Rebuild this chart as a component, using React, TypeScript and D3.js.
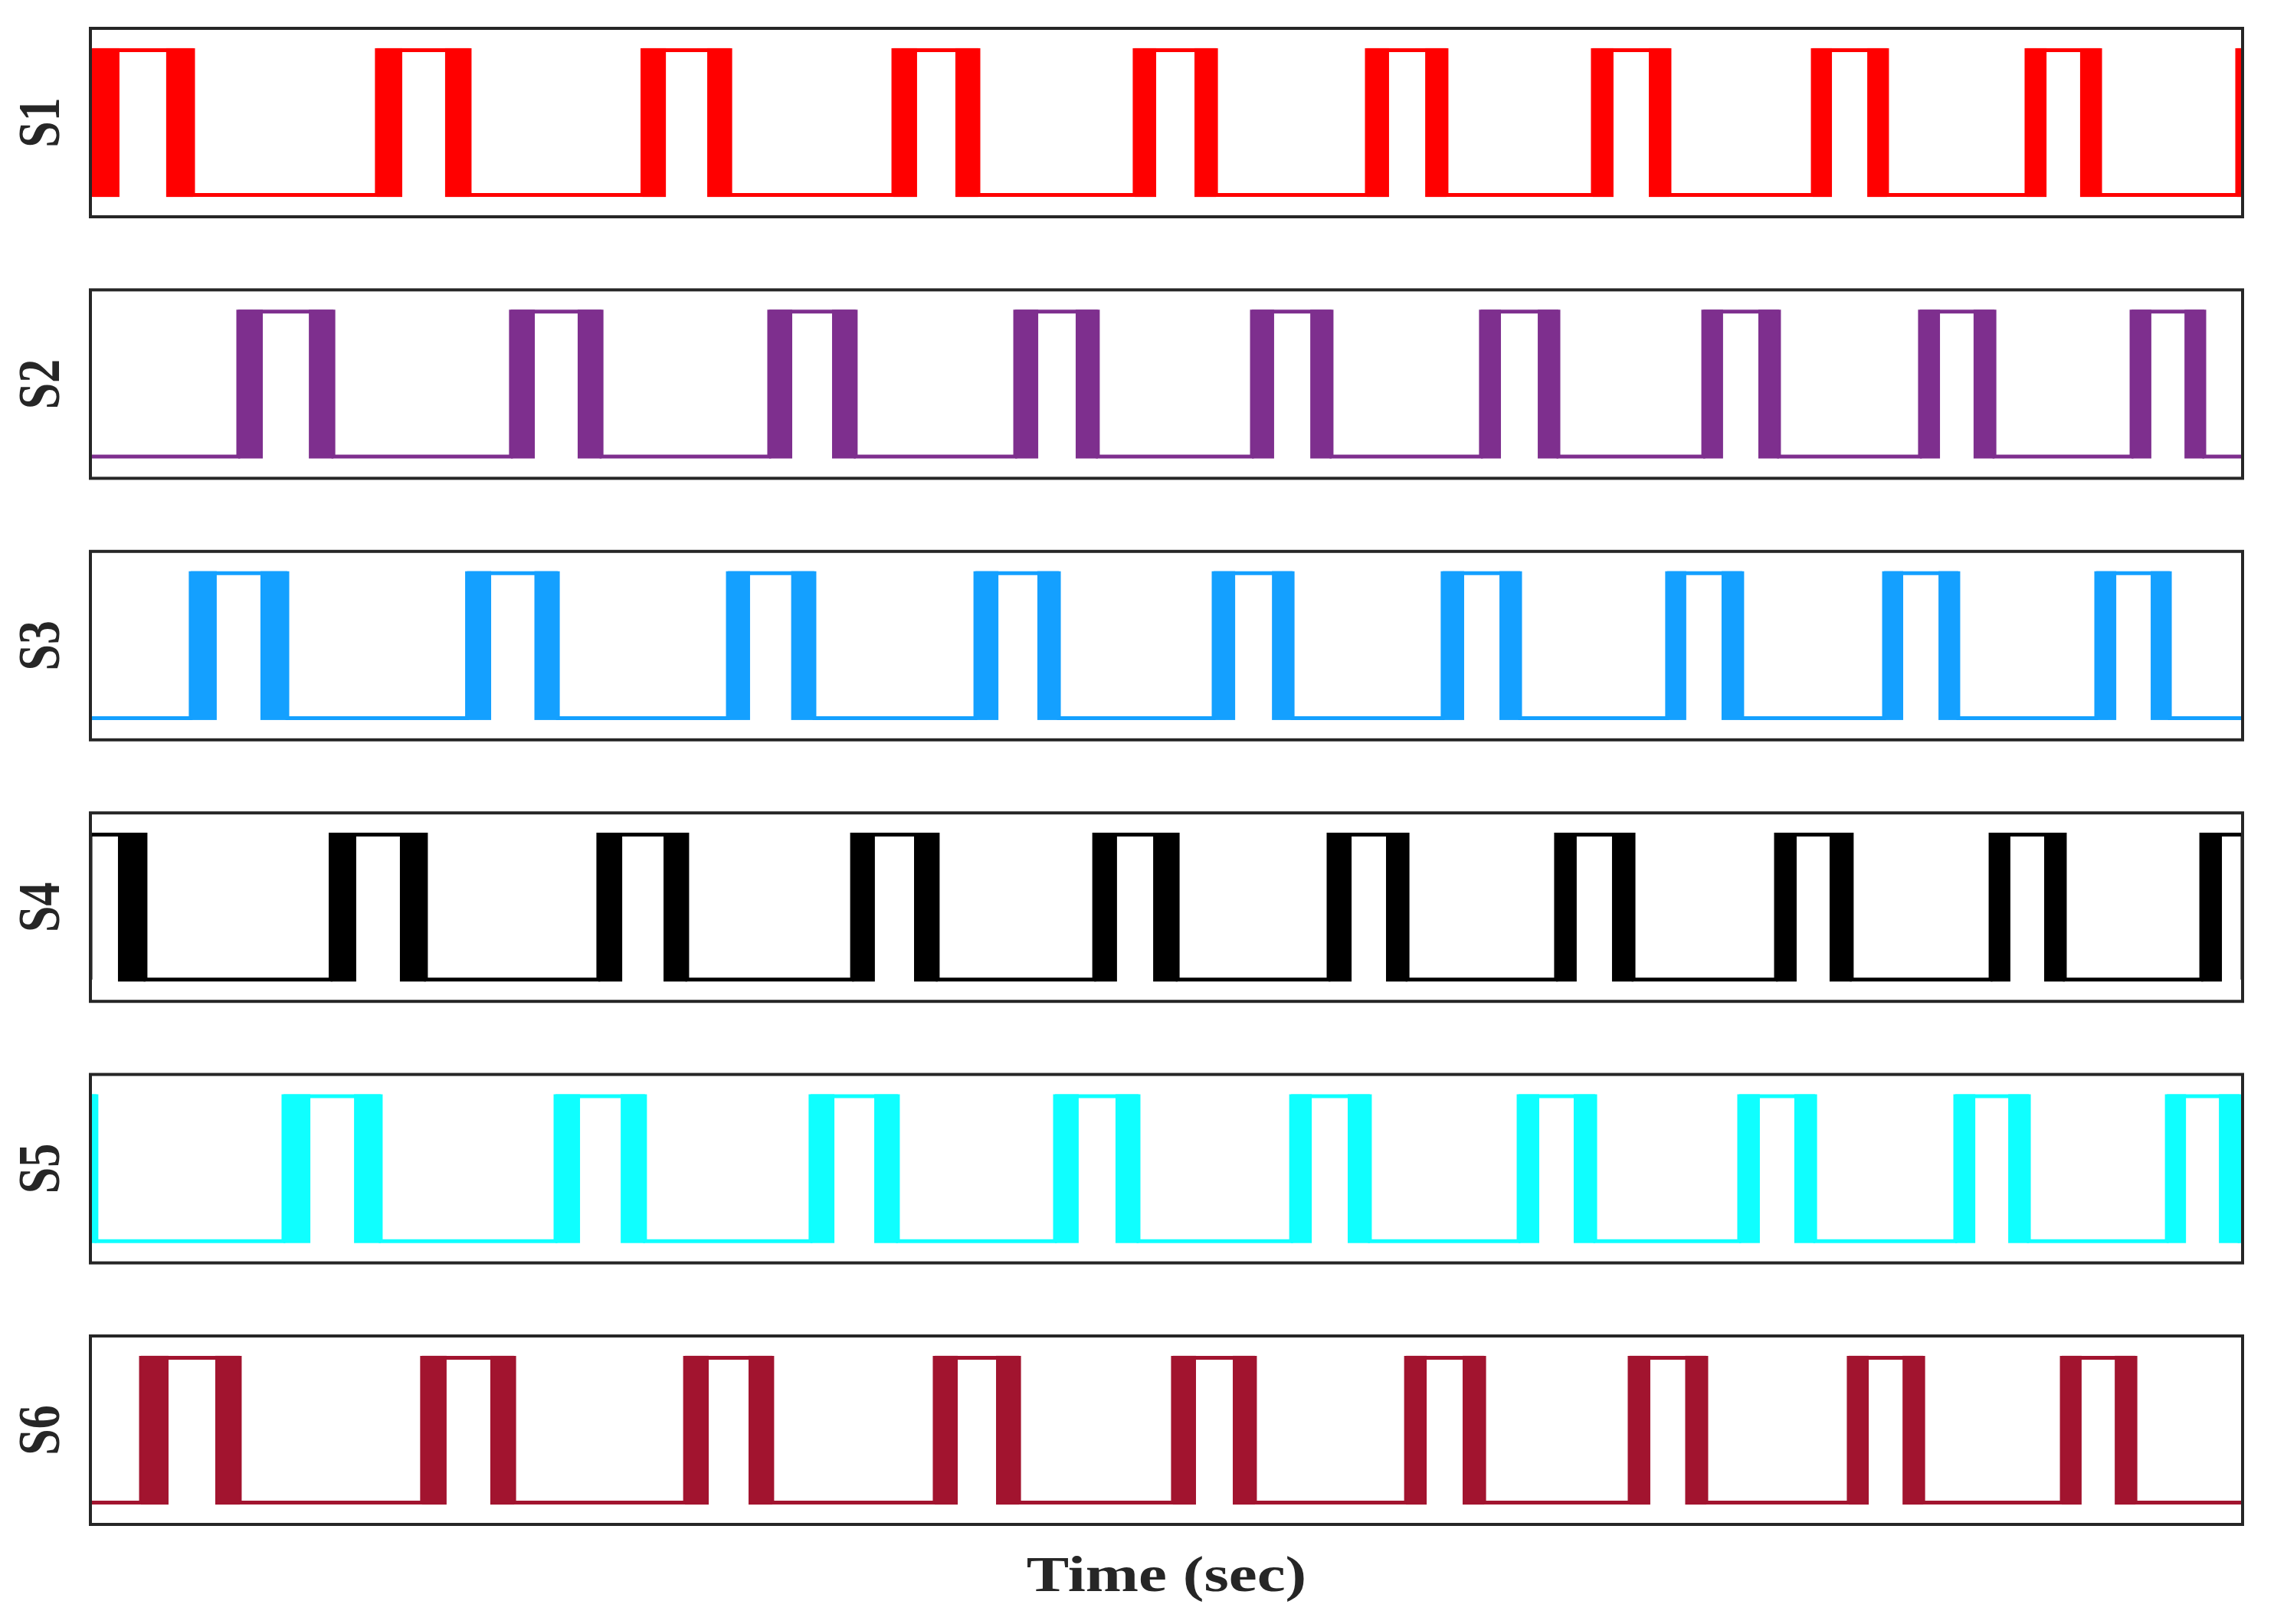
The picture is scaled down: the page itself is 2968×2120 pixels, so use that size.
import * as d3 from 'd3';

// time axis runs 0..1000 ms (no ticks shown in the figure)
const T_MAX = 1000;

const signalNames = ['S1', 'S2', 'S3', 'S4', 'S5', 'S6'];
const signalColors = ['#FF0000', '#7E2F8E', '#14A0FF', '#000000', '#0FFFFF', '#A2142F'];

// each pulse: [rise start, rise end, fall start, fall end] (ms)
// the thick parts are the dense switching bands on each edge
const s1Pulses = [
  [1.1, 13.5, 35.2, 47.7], [133.1, 144.9, 164.8, 176.2], [256.5, 267.4, 286.6, 297.3],
  [373.1, 384.1, 401.9, 412.6], [485.2, 495.2, 513.0, 523.0], [593.1, 603.4, 620.2, 630.1],
  [698.1, 707.7, 724.1, 733.7], [800.3, 809.2, 825.6, 834.8], [899.6, 908.9, 924.5, 933.8],
  [997.5, 1000, 1000, 1000],
];
const s2Pulses = [
  [68.7, 80.1, 101.5, 112.9], [195.4, 206.5, 226.4, 237.5], [315.4, 326.1, 344.6, 355.6],
  [429.7, 440.4, 457.8, 468.1], [539.7, 550.0, 566.8, 576.7], [646.1, 655.4, 672.5, 682.1],
  [749.4, 758.6, 775.0, 784.6], [850.1, 859.4, 875.0, 884.7], [948.4, 957.6, 973.0, 982.2],
];
const s3Pulses = [
  [46.6, 58.7, 79.0, 91.5], [175.0, 186.2, 206.3, 217.2], [296.2, 306.5, 325.6, 336.4],
  [411.2, 421.9, 440.0, 450.0], [521.9, 531.9, 549.0, 558.6], [628.3, 638.3, 654.7, 664.3],
  [732.6, 741.5, 757.9, 767.5], [833.4, 842.3, 858.7, 867.9], [932.0, 941.3, 957.3, 966.2],
];
const s4Pulses = [
  [0, 0, 12.8, 25.6], [111.6, 123.5, 143.8, 155.9], [236.0, 247.1, 266.3, 277.3],
  [353.9, 364.5, 382.7, 393.7], [466.4, 477.0, 493.8, 505.2], [575.3, 586.0, 602.0, 612.0],
  [681.0, 690.6, 707.0, 717.0], [783.2, 792.8, 808.1, 818.4], [882.9, 892.1, 907.8, 917.4],
  [980.8, 990.4, 1000, 1000],
];
const s5Pulses = [
  [0, 0, 0, 2.8], [89.7, 102.2, 122.5, 134.9], [216.1, 227.5, 246.4, 257.7],
  [334.6, 345.7, 364.2, 375.2], [448.2, 459.2, 476.3, 487.0], [557.9, 567.5, 584.2, 594.5],
  [663.6, 673.2, 689.2, 699.2], [766.1, 775.7, 791.7, 801.4], [866.5, 875.8, 891.1, 900.7],
  [964.8, 973.7, 989.0, 998.6],
];
const s6Pulses = [
  [23.5, 36.3, 58.0, 69.4], [154.1, 165.5, 185.8, 196.9], [276.3, 287.3, 305.8, 316.8],
  [392.3, 403.0, 420.8, 431.5], [503.0, 513.7, 530.8, 541.1], [611.3, 620.9, 637.6, 647.6],
  [715.2, 724.8, 741.0, 750.8], [817.0, 826.3, 842.0, 851.6], [916.0, 925.2, 940.6, 950.2],
];

const allPulses = [s1Pulses, s2Pulses, s3Pulses, s4Pulses, s5Pulses, s6Pulses];

const W = 2968;
const H = 2120;
const left = 118;
const right = 2927;
const panelTop = 37;
const panelStep = 341.4;
const panelH = 246;
const lineW = 5;
const ink = '#262626';
const stretch = 1.26; // the original figure is stretched horizontally

export default function App() {
  const x = d3.scaleLinear().domain([0, T_MAX]).range([left, right]);

  return (
    <svg
      width={W}
      height={H}
      style={{ position: 'absolute', left: 0, top: 0, background: '#fff' }}
      fontFamily="'Liberation Serif', 'Times New Roman', serif"
    >
      <rect width={W} height={H} fill="#fff" />
      {signalNames.map((name, i) => {
        const top = panelTop + i * panelStep;
        const y = d3.scaleLinear().domain([-0.15, 1.15]).range([top + panelH, top]);
        const pulses = allPulses[i];
        const pts: [number, number][] = [[0, 0]];
        pulses.forEach(([r0, , , f1]) => {
          pts.push([r0, 0], [r0, 1], [f1, 1], [f1, 0]);
        });
        pts.push([T_MAX, 0]);
        const line = d3
          .line<[number, number]>()
          .x((d) => x(d[0]))
          .y((d) => y(d[1]));
        const bandTop = y(1) - lineW / 2;
        const bandBot = y(0) + lineW / 2;
        const clipId = `clip-${i}`;
        const cy = top + panelH / 2;
        return (
          <g key={name}>
            <clipPath id={clipId}>
              <rect x={left} y={top} width={right - left} height={panelH} />
            </clipPath>
            <g clipPath={`url(#${clipId})`}>
              <path
                d={line(pts) || ''}
                fill="none"
                stroke={signalColors[i]}
                strokeWidth={lineW}
                strokeLinejoin="miter"
              />
              {pulses.map((p, j) => (
                <g key={j}>
                  <rect
                    x={x(p[0])}
                    y={bandTop}
                    width={Math.max(0, x(p[1]) - x(p[0]))}
                    height={bandBot - bandTop}
                    fill={signalColors[i]}
                  />
                  <rect
                    x={x(p[2])}
                    y={bandTop}
                    width={Math.max(0, x(p[3]) - x(p[2]))}
                    height={bandBot - bandTop}
                    fill={signalColors[i]}
                  />
                </g>
              ))}
            </g>
            <rect
              x={left}
              y={top}
              width={right - left}
              height={panelH}
              fill="none"
              stroke={ink}
              strokeWidth={4}
            />
            <text
              transform={`translate(50,${cy}) scale(${stretch},1) rotate(-90)`}
              textAnchor="middle"
              dominantBaseline="central"
              fontSize={62}
              fontWeight="bold"
              fill={ink}
            >
              {name}
            </text>
          </g>
        );
      })}
      <text
        transform={`translate(${(left + right) / 2},2077) scale(${stretch},1)`}
        textAnchor="middle"
        fontSize={66}
        fontWeight="bold"
        fill={ink}
      >
        Time (sec)
      </text>
    </svg>
  );
}
